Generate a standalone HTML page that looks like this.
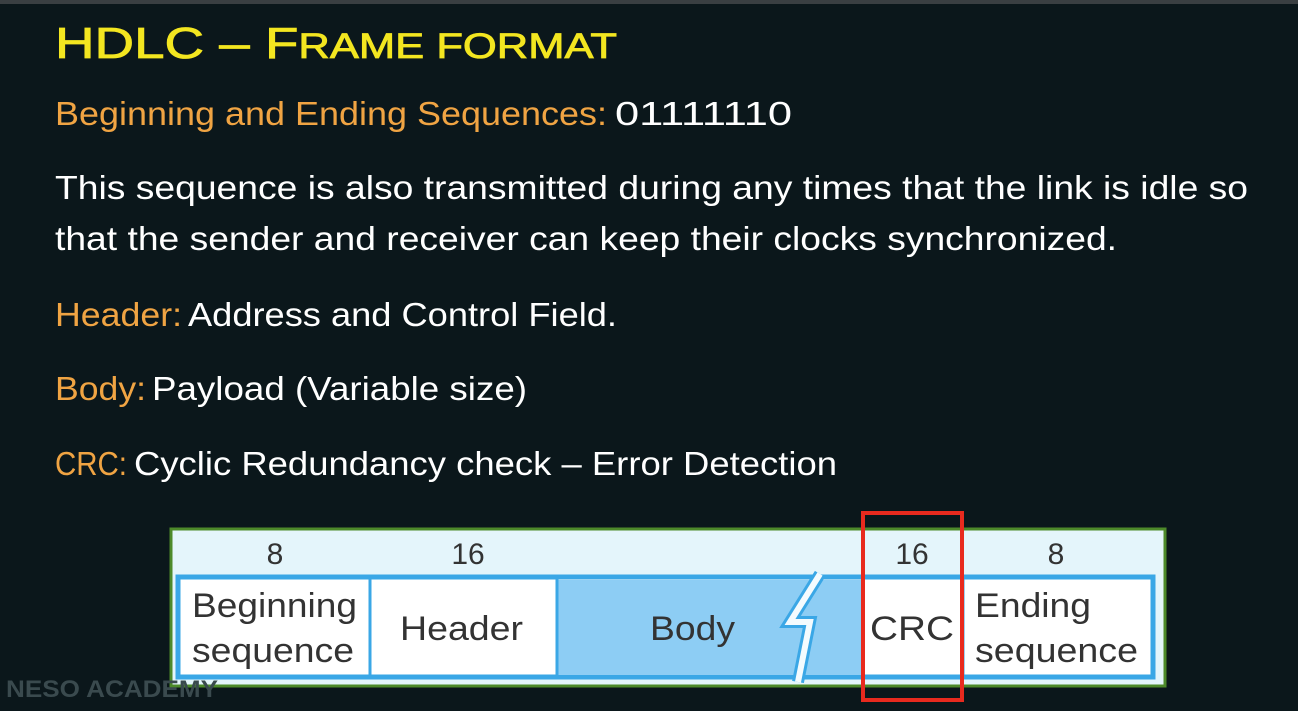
<!DOCTYPE html>
<html><head><meta charset="utf-8"><style>
html,body{margin:0;padding:0;background:#0b171b;}
svg{display:block}
</style></head><body>
<svg width="1298" height="711" viewBox="0 0 1298 711" xmlns="http://www.w3.org/2000/svg">
<rect width="1298" height="711" fill="#0b171b"/>
<rect width="1298" height="4" fill="#3a3f42"/>
<g font-family="Liberation Sans, sans-serif">
<text x="55" y="58" fill="#f3e620" font-size="44" stroke="#f3e620" stroke-width="0.8" textLength="562" lengthAdjust="spacingAndGlyphs">HDLC – F<tspan font-size="35">RAME FORMAT</tspan></text>
<g font-size="33">
<text x="55" y="125" fill="#f0a443" textLength="552" lengthAdjust="spacingAndGlyphs">Beginning and Ending Sequences:</text>
<text x="615" y="125" fill="#ffffff" textLength="177" lengthAdjust="spacingAndGlyphs">01111110</text>
<text x="55" y="199" fill="#ffffff" textLength="1193" lengthAdjust="spacingAndGlyphs">This sequence is also transmitted during any times that the link is idle so</text>
<text x="55" y="250" fill="#ffffff" textLength="1062" lengthAdjust="spacingAndGlyphs">that the sender and receiver can keep their clocks synchronized.</text>
<text x="55" y="326" fill="#f0a443" textLength="127" lengthAdjust="spacingAndGlyphs">Header:</text>
<text x="188" y="326" fill="#ffffff" textLength="429" lengthAdjust="spacingAndGlyphs">Address and Control Field.</text>
<text x="55" y="400" fill="#f0a443" textLength="91" lengthAdjust="spacingAndGlyphs">Body:</text>
<text x="152" y="400" fill="#ffffff" textLength="375" lengthAdjust="spacingAndGlyphs">Payload (Variable size)</text>
<text x="55" y="475" fill="#f0a443" textLength="72" lengthAdjust="spacingAndGlyphs">CRC:</text>
<text x="134" y="475" fill="#ffffff" textLength="703" lengthAdjust="spacingAndGlyphs">Cyclic Redundancy check – Error Detection</text>
</g>
<!-- diagram -->
<rect x="171" y="529" width="994" height="157" fill="#e4f5fb" stroke="#4d8a2a" stroke-width="3"/>
<rect x="178" y="577" width="975" height="100" fill="#ffffff" stroke="#3aa7e6" stroke-width="5"/>
<rect x="557" y="580" width="308" height="95" fill="#8dcdf4"/>
<polyline points="820,574 790,622 810,622 798,682" fill="none" stroke="#3aa7e6" stroke-width="12" stroke-linejoin="miter"/>
<polyline points="820,574 790,622 810,622 798,682" fill="none" stroke="#f4fbfe" stroke-width="6" stroke-linejoin="miter"/>
<line x1="370" y1="578" x2="370" y2="677" stroke="#3aa7e6" stroke-width="3"/>
<line x1="557" y1="578" x2="557" y2="677" stroke="#3aa7e6" stroke-width="3"/>
<line x1="963" y1="578" x2="963" y2="677" stroke="#3aa7e6" stroke-width="3"/>
<g fill="#333" font-size="30" text-anchor="middle">
<text x="275" y="564">8</text>
<text x="468" y="564">16</text>
<text x="912" y="564">16</text>
<text x="1056" y="564">8</text>
</g>
<g fill="#333" font-size="34">
<text x="192" y="617" textLength="165" lengthAdjust="spacingAndGlyphs">Beginning</text>
<text x="192" y="662" textLength="162" lengthAdjust="spacingAndGlyphs">sequence</text>
<text x="400" y="640" textLength="123" lengthAdjust="spacingAndGlyphs">Header</text>
<text x="650" y="640" textLength="85" lengthAdjust="spacingAndGlyphs">Body</text>
<text x="870" y="640" textLength="84" lengthAdjust="spacingAndGlyphs">CRC</text>
<text x="975" y="617" textLength="116" lengthAdjust="spacingAndGlyphs">Ending</text>
<text x="975" y="662" textLength="163" lengthAdjust="spacingAndGlyphs">sequence</text>
</g>
<rect x="863" y="513" width="99" height="187" fill="none" stroke="#e82a1e" stroke-width="4"/>
<text x="6" y="697" fill="#3a4a4e" font-size="24" font-weight="bold" textLength="212" lengthAdjust="spacingAndGlyphs">NESO ACADEMY</text>
</g>
</svg>
</body></html>
